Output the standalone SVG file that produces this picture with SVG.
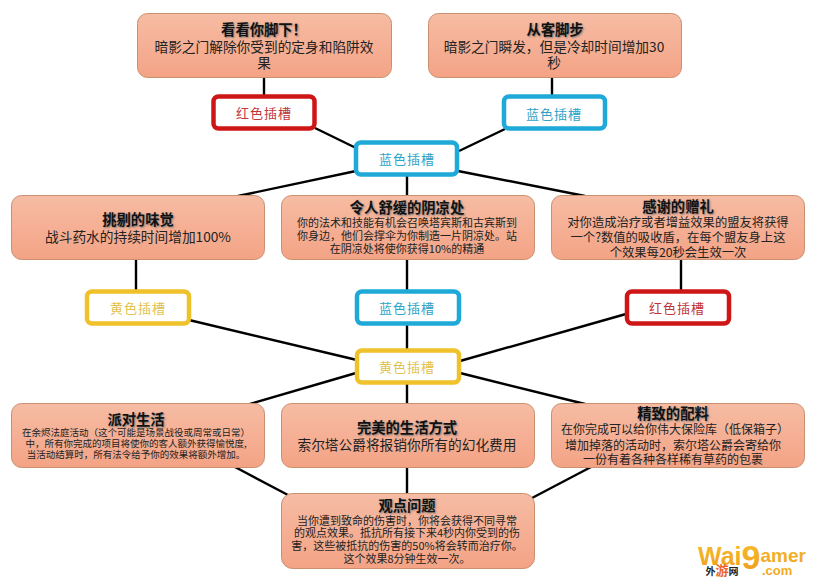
<svg xmlns="http://www.w3.org/2000/svg" width="816" height="580" viewBox="0 0 816 580">
<style>
text{font-family:"Noto Sans CJK SC","Liberation Sans",sans-serif;text-anchor:middle;fill:#222}
.box{fill:url(#g);stroke:#c8906f;stroke-width:1}
.t{font-weight:700;font-size:14.3px;fill:#111;text-shadow:1px 1px 2px #777}
.b{font-size:13.7px}
.m{font-size:12.3px}
.s{font-size:12px}
.x{font-size:11px}
.xx{font-size:9.5px}
.slot{fill:#fff;stroke-width:4.5}
.sl{font-size:13px;letter-spacing:1px}
.red .slot{stroke:#cf1616}.red text{fill:#c0353a}
.blue .slot{stroke:#1fa9d9}.blue text{fill:#2ea3c9}
.yel .slot{stroke:#efc12a}.yel text{fill:#e2c34e}
#connectors line{stroke:#000;stroke-width:2.4}
.wm{font-family:"Liberation Sans",sans-serif;font-weight:700;text-anchor:start;fill:url(#w)}
</style>
<defs><linearGradient id="g" x1="0" y1="0" x2="0" y2="1"><stop offset="0" stop-color="#f6bca4"/><stop offset="1" stop-color="#f4a385"/></linearGradient>
<linearGradient id="w" x1="0" y1="0" x2="0" y2="1"><stop offset="0" stop-color="#f6c02e"/><stop offset="1" stop-color="#ee9a1c"/></linearGradient></defs>
<rect width="816" height="580" fill="#fff"/>
<g id="connectors">
<line x1="264" y1="77" x2="264" y2="96"/><line x1="552" y1="77" x2="552" y2="96"/>
<line x1="315" y1="128" x2="356" y2="148"/><line x1="505" y1="129" x2="459" y2="151"/>
<line x1="356" y1="171" x2="238" y2="196"/><line x1="458" y1="171" x2="585" y2="196"/>
<line x1="407" y1="175" x2="407" y2="494"/>
<line x1="136" y1="260" x2="136" y2="291"/><line x1="681" y1="260" x2="681" y2="291"/>
<line x1="189" y1="320" x2="357" y2="360"/><line x1="626" y1="314" x2="460" y2="361"/>
<line x1="356" y1="373" x2="250" y2="404"/><line x1="460" y1="373" x2="585" y2="404"/>
<line x1="235" y1="467" x2="288" y2="495"/><line x1="591" y1="467" x2="532" y2="498"/>
</g>
<g id="n1"><rect class="box" x="137.500" y="13.500" width="254" height="64" rx="10"/><text class="t" x="264" y="35">看看你脚下！</text><text class="b" x="264" y="52">暗影之门解除你受到的定身和陷阱效</text><text class="b" x="264" y="68">果</text></g>
<g id="n2"><rect class="box" x="428.500" y="13.500" width="253" height="64" rx="10"/><text class="t" x="555" y="35">从客脚步</text><text class="b" x="554" y="52">暗影之门瞬发，但是冷却时间增加30</text><text class="b" x="554" y="68">秒</text></g>
<g id="s1" class="red"><rect class="slot" x="213.500" y="96.500" width="101" height="32" rx="5"/><text class="sl" x="264" y="118">红色插槽</text></g>
<g id="s2" class="blue"><rect class="slot" x="504" y="96.500" width="101" height="32" rx="5"/><text class="sl" x="554" y="119">蓝色插槽</text></g>
<g id="s3" class="blue"><rect class="slot" x="356" y="142.500" width="101" height="32" rx="5"/><text class="sl" x="407" y="164">蓝色插槽</text></g>
<g id="n3"><rect class="box" x="11.500" y="195.500" width="253" height="64" rx="10"/><text class="t" x="138" y="225">挑剔的味觉</text><text class="b" x="138" y="242">战斗药水的持续时间增加100%</text></g>
<g id="n4"><rect class="box" x="281.500" y="195.500" width="253" height="64" rx="10"/><text class="t" x="407" y="213">令人舒缓的阴凉处</text><text class="x" x="407" y="227">你的法术和技能有机会召唤塔宾斯和古宾斯到</text><text class="x" x="407" y="240">你身边，他们会撑伞为你制造一片阴凉处。站</text><text class="x" x="407" y="253">在阴凉处将使你获得10%的精通</text></g>
<g id="n5"><rect class="box" x="551.500" y="195.500" width="253" height="64" rx="10"/><text class="t" x="678" y="212">感谢的赠礼</text><text class="m" x="678" y="227">对你造成治疗或者增益效果的盟友将获得</text><text class="m" x="678" y="242">一个?数值的吸收盾，在每个盟友身上这</text><text class="m" x="678" y="257">个效果每20秒会生效一次</text></g>
<g id="s4" class="yel"><rect class="slot" x="87" y="291.500" width="102" height="32" rx="5"/><text class="sl" x="138" y="313">黄色插槽</text></g>
<g id="s5" class="blue"><rect class="slot" x="357" y="291.500" width="102" height="32" rx="5"/><text class="sl" x="407" y="313">蓝色插槽</text></g>
<g id="s6" class="red"><rect class="slot" x="627" y="291.500" width="102" height="32" rx="5"/><text class="sl" x="677" y="313">红色插槽</text></g>
<g id="s7" class="yel"><rect class="slot" x="357" y="350.500" width="102" height="32" rx="5"/><text class="sl" x="407" y="372">黄色插槽</text></g>
<g id="n6"><rect class="box" x="11.500" y="403.500" width="253" height="64" rx="10"/><text class="t" x="136" y="425">派对生活</text><text class="xx" x="136" y="436">在余烬法庭活动（这个可能是场景战役或周常或日常）</text><text class="xx" x="136" y="447">中，所有你完成的项目将使你的客人额外获得愉悦度,</text><text class="xx" x="136" y="458">当活动结算时，所有法令给予你的效果将额外增加。</text></g>
<g id="n7"><rect class="box" x="281.500" y="403.500" width="253" height="64" rx="10"/><text class="t" x="407" y="433">完美的生活方式</text><text class="b" x="407" y="450">索尔塔公爵将报销你所有的幻化费用</text></g>
<g id="n8"><rect class="box" x="551.500" y="403.500" width="253" height="64" rx="10"/><text class="t" x="673" y="419">精致的配料</text><text class="s" x="675" y="434">在你完成可以给你伟大保险库（低保箱子）</text><text class="s" x="673" y="450">增加掉落的活动时，索尔塔公爵会寄给你</text><text class="s" x="673" y="464">一份有着各种各样稀有草药的包裹</text></g>
<g id="n9"><rect class="box" x="281.500" y="493.500" width="253" height="75" rx="11"/><text class="t" x="407" y="511">观点问题</text><text class="x" x="407" y="525">当你遭到致命的伤害时，你将会获得不同寻常</text><text class="x" x="407" y="537">的观点效果。抵抗所有接下来4秒内你受到的伤</text><text class="x" x="407" y="550">害，这些被抵抗的伤害的50%将会转而治疗你。</text><text class="x" x="407" y="563">这个效果8分钟生效一次。</text></g>
<text class="wm" x="698" y="565"><tspan font-size="25">Wai</tspan><tspan font-size="34" dy="4">9</tspan><tspan font-size="19" dy="-7">amer</tspan></text>
<text class="wm" x="762" y="575" font-size="13">.com</text>
<text x="722" y="575" style="font-size:10px;font-weight:700">外<tspan fill="#e8662a" font-size="13">游</tspan>网</text>
</svg>
